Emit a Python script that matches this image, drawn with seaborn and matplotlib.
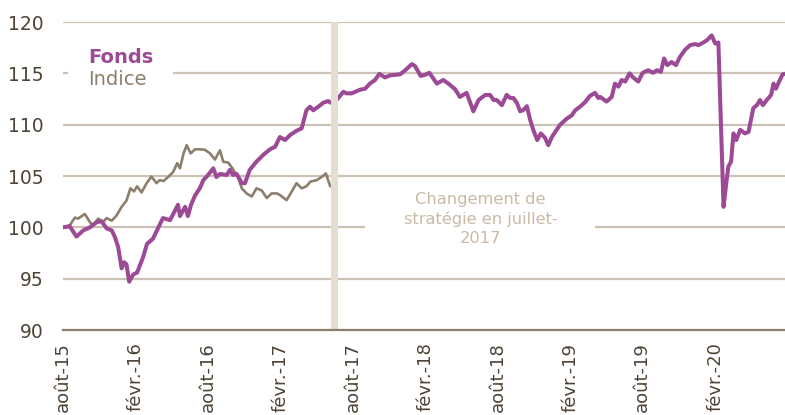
import pandas as pd
import matplotlib
matplotlib.use("Agg")
from matplotlib import pyplot as plt
from matplotlib.patches import Rectangle
import seaborn as sns

# ---------------- DATA ----------------
fonds_dates = [
    "2015-08-01", "2015-08-18", "2015-09-04", "2015-09-21", "2015-10-08", "2015-10-25",
    "2015-11-06", "2015-11-19", "2015-12-02", "2015-12-10", "2015-12-18", "2015-12-27",
    "2016-01-02", "2016-01-08", "2016-01-15", "2016-01-25", "2016-02-04", "2016-02-19",
    "2016-02-29", "2016-03-15", "2016-03-25", "2016-04-09", "2016-04-27", "2016-05-09",
    "2016-05-17", "2016-05-22", "2016-06-04", "2016-06-11", "2016-06-19", "2016-06-29",
    "2016-07-11", "2016-07-20", "2016-08-01", "2016-08-14", "2016-08-22", "2016-08-31",
    "2016-09-17", "2016-09-25", "2016-10-03", "2016-10-12", "2016-10-25", "2016-11-02",
    "2016-11-14", "2016-12-01", "2016-12-18", "2017-01-04", "2017-01-17", "2017-01-29",
    "2017-02-11", "2017-02-24", "2017-03-12", "2017-03-25", "2017-04-06", "2017-04-15",
    "2017-04-23", "2017-05-06", "2017-05-19", "2017-05-31", "2017-06-05", "2017-06-21",
    "2017-07-08", "2017-07-16", "2017-07-29", "2017-08-19", "2017-09-01", "2017-09-13",
    "2017-09-26", "2017-10-07", "2017-10-21", "2017-11-03", "2017-11-28", "2017-12-11",
    "2017-12-28", "2018-01-05", "2018-01-19", "2018-01-30", "2018-02-10", "2018-03-01",
    "2018-03-17", "2018-03-30", "2018-04-16", "2018-04-28", "2018-05-15", "2018-06-01",
    "2018-06-14", "2018-07-01", "2018-07-13", "2018-07-22", "2018-07-30", "2018-08-12",
    "2018-08-24", "2018-09-02", "2018-09-10", "2018-09-19", "2018-09-27", "2018-10-04",
    "2018-10-14", "2018-10-22", "2018-10-30", "2018-11-09", "2018-11-18", "2018-11-29",
    "2018-12-07", "2018-12-16", "2018-12-28", "2019-01-06", "2019-01-23", "2019-02-04",
    "2019-02-13", "2019-02-25", "2019-03-10", "2019-03-22", "2019-04-04", "2019-04-12",
    "2019-04-17", "2019-05-03", "2019-05-16", "2019-05-24", "2019-06-02", "2019-06-10",
    "2019-06-19", "2019-06-30", "2019-07-09", "2019-07-22", "2019-08-02", "2019-08-16",
    "2019-08-28", "2019-09-07", "2019-09-17", "2019-09-25", "2019-10-03", "2019-10-14",
    "2019-10-25", "2019-11-04", "2019-11-17", "2019-11-30", "2019-12-12", "2019-12-21",
    "2020-01-02", "2020-01-12", "2020-01-23", "2020-02-01", "2020-02-09", "2020-02-13",
    "2020-02-22", "2020-02-28", "2020-03-05", "2020-03-12", "2020-03-18", "2020-03-25",
    "2020-04-04", "2020-04-16", "2020-04-25", "2020-05-07", "2020-05-16", "2020-05-24",
    "2020-05-31", "2020-06-10", "2020-06-21", "2020-06-27", "2020-07-03", "2020-07-13",
    "2020-07-20", "2020-07-26",
]
fonds_values = [
    100.0, 100.1, 99.1, 99.7, 100.0, 100.5,
    100.6, 99.9, 99.7, 99.05, 98.1, 96.0,
    96.6, 96.4, 94.7, 95.4, 95.6, 97.1,
    98.4, 98.9, 99.7, 100.9, 100.7, 101.6,
    102.2, 101.1, 102.0, 101.1, 102.2, 103.1,
    103.8, 104.6, 105.1, 105.75, 104.9, 105.2,
    105.1, 105.6, 105.1, 105.2, 104.3, 104.3,
    105.6, 106.4, 107.05, 107.6, 107.85, 108.8,
    108.5, 109.0, 109.4, 109.65, 111.4, 111.75,
    111.4, 111.75, 112.15, 112.3, 112.15, 112.4,
    113.2, 113.05, 113.05, 113.4, 113.5, 114.0,
    114.35, 114.95, 114.6, 114.8, 114.9, 115.3,
    115.9, 115.7, 114.75, 114.85, 115.05, 114.0,
    114.35, 114.0, 113.45, 112.7, 113.1, 111.3,
    112.4, 112.9, 112.9, 112.4, 112.4, 111.9,
    112.9, 112.6, 112.6, 112.1, 111.3, 111.4,
    111.8, 110.5, 109.5, 108.5, 109.15, 108.7,
    108.0, 108.8, 109.5, 110.0, 110.6, 110.9,
    111.4, 111.75, 112.2, 112.8, 113.1, 112.6,
    112.7, 112.25, 112.7, 114.0, 113.7, 114.35,
    114.2, 115.0, 114.6, 114.2, 115.05, 115.3,
    115.05, 115.3, 115.15, 116.45, 115.8, 116.1,
    115.8, 116.6, 117.3, 117.75, 117.85, 117.75,
    118.0, 118.25, 118.7, 117.9, 118.0, 113.05,
    102.0, 104.0, 105.9, 106.4, 109.15, 108.5,
    109.5, 109.15, 109.3, 111.6, 111.9, 112.4,
    111.9, 112.4, 112.9, 114.0, 113.5, 114.35,
    114.9, 114.95,
]

indice_dates = [
    "2015-08-01", "2015-08-18", "2015-08-31", "2015-09-08", "2015-09-25", "2015-10-08",
    "2015-10-16", "2015-10-29", "2015-11-10", "2015-11-19", "2015-12-02", "2015-12-14",
    "2015-12-27", "2016-01-08", "2016-01-18", "2016-01-27", "2016-02-04", "2016-02-15",
    "2016-02-28", "2016-03-11", "2016-03-24", "2016-04-01", "2016-04-10", "2016-04-22",
    "2016-05-05", "2016-05-15", "2016-05-22", "2016-05-31", "2016-06-08", "2016-06-18",
    "2016-06-29", "2016-07-11", "2016-07-24", "2016-08-06", "2016-08-18", "2016-08-31",
    "2016-09-08", "2016-09-21", "2016-10-03", "2016-10-16", "2016-10-25", "2016-11-06",
    "2016-11-19", "2016-12-01", "2016-12-14", "2016-12-27", "2017-01-08", "2017-01-22",
    "2017-01-29", "2017-02-15", "2017-02-28", "2017-03-12", "2017-03-25", "2017-04-06",
    "2017-04-16", "2017-05-02", "2017-05-14", "2017-05-25", "2017-06-05",
]
indice_values = [
    100.0, 100.2, 100.95, 100.85, 101.3, 100.5,
    100.2, 100.85, 100.5, 100.9, 100.65, 101.15,
    102.0, 102.6, 103.8, 103.5, 104.0, 103.4,
    104.3, 104.95, 104.3, 104.6, 104.5, 104.9,
    105.4, 106.25, 105.75, 107.2, 108.0, 107.2,
    107.6, 107.6, 107.55, 107.2, 106.6, 107.5,
    106.4, 106.3, 105.65, 104.8, 103.8, 103.3,
    103.0, 103.8, 103.6, 102.85, 103.3, 103.3,
    103.15, 102.65, 103.5, 104.3, 103.8, 104.0,
    104.45, 104.6, 104.9, 105.25, 104.0,
]

tick_dates = ["2015-08-01", "2016-02-01", "2016-08-01", "2017-02-01", "2017-08-01",
              "2018-02-01", "2018-08-01", "2019-02-01", "2019-08-01", "2020-02-01"]
tick_labels = ["août-15", "févr.-16", "août-16", "févr.-17", "août-17",
               "févr.-18", "août-18", "févr.-19", "août-19", "févr.-20"]
y_ticks = [90, 95, 100, 105, 110, 115, 120]

changement_date = "2017-06-14"
annotation = "Changement de\nstratégie en juillet-\n2017"

# ---------------- COLOURS ----------------
c_fonds = "#9c4a96"
c_indice = "#8d7f6e"
c_grid = "#cbc2b5"
c_axis = "#8b7d6b"
c_text = "#4d4336"
c_bar = "#e6ddd1"
c_note = "#c9baa6"

fonds = pd.DataFrame({"date": pd.to_datetime(fonds_dates), "valeur": fonds_values})
indice = pd.DataFrame({"date": pd.to_datetime(indice_dates), "valeur": indice_values})

sns.set_style("white")
plt.rcParams["font.family"] = ["DejaVu Sans"]

fig = plt.figure(figsize=(7.85, 4.15), dpi=100)
ax = fig.add_axes([63 / 785, 85 / 415, 722 / 785, 308 / 415])

# grid lines
for v in y_ticks[1:]:
    ax.axhline(v, color=c_grid, lw=1.6, zorder=1)

# white boxes behind the texts (they cut the gridlines)
ax.add_patch(Rectangle((0.007, 0.765), 0.145, 0.18, transform=ax.transAxes,
                       facecolor="white", edgecolor="none", zorder=1.5))
ax.add_patch(Rectangle((0.418, 0.245), 0.319, 0.23, transform=ax.transAxes,
                       facecolor="white", edgecolor="none", zorder=1.5))

sns.lineplot(data=indice, x="date", y="valeur", ax=ax, color=c_indice, lw=1.9, zorder=3)
sns.lineplot(data=fonds, x="date", y="valeur", ax=ax, color=c_fonds, lw=2.9, zorder=4)

ax.axvline(pd.Timestamp(changement_date), color=c_bar, lw=5, zorder=5)

ax.set_xlim(pd.Timestamp("2015-08-01"), pd.Timestamp("2020-07-26"))
ax.set_ylim(90, 120)
ax.set_yticks(y_ticks)
ax.set_xticks(pd.to_datetime(tick_dates))
ax.set_xticklabels(tick_labels, rotation=90)
ax.set_xlabel("")
ax.set_ylabel("")

for s in ["top", "right", "left"]:
    ax.spines[s].set_visible(False)
ax.spines["bottom"].set_color(c_axis)
ax.spines["bottom"].set_linewidth(1.6)
ax.spines["bottom"].set_zorder(6)
ax.tick_params(axis="x", colors=c_axis, direction="out", length=5, width=1.4,
               labelsize=13, labelcolor=c_text, pad=4)
ax.tick_params(axis="y", length=0, labelsize=13.5, labelcolor=c_text, pad=14)

ax.text(0.035, 0.886, "Fonds", transform=ax.transAxes, color=c_fonds,
        fontsize=14, fontweight="bold", va="center", ha="left", zorder=7)
ax.text(0.035, 0.812, "Indice", transform=ax.transAxes, color=c_indice,
        fontsize=14, va="center", ha="left", zorder=7)
ax.text(0.578, 0.36, annotation, transform=ax.transAxes, color=c_note,
        fontsize=11.7, va="center", ha="center", multialignment="center",
        linespacing=1.3, zorder=7)

fig.savefig("out.png", dpi=100)
